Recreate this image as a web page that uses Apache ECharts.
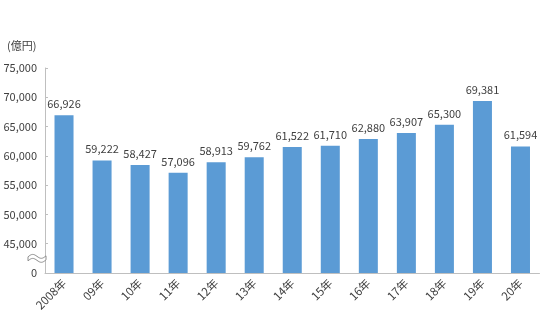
<!DOCTYPE html>
<html>
<head>
<meta charset="utf-8">
<script src="https://cdn.jsdelivr.net/npm/echarts@6/dist/echarts.min.js"></script>
<style>
  html, body { margin: 0; padding: 0; background: #fff; }
  #chart { width: 550px; height: 329px; }
</style>
</head>
<body>
<div id="chart"></div>
<script>
// Annual totals (億円)
const years = ['2008年', '09年', '10年', '11年', '12年', '13年', '14年', '15年', '16年', '17年', '18年', '19年', '20年'];
const amounts = [66926, 59222, 58427, 57096, 58913, 59762, 61522, 61710, 62880, 63907, 65300, 69381, 61594];

// The value axis is broken: its lowest slot stands for 0, the rest runs 45,000–75,000
const axisFloor = 40000;
const axisTop = 75000;
const axisStep = 5000;

const fontFamily = '"Noto Sans CJK JP", "Noto Sans", sans-serif';
const textColor = '#404040';
const axisColor = '#bfbfbf';

const chart = echarts.init(document.getElementById('chart'));

function fmt(v) {
  return v.toLocaleString('en-US');
}

chart.setOption({
  animation: false,
  grid: { left: 45, right: 10.5, top: 68, bottom: 56 },
  xAxis: {
    type: 'category',
    data: years,
    axisLine: { lineStyle: { color: axisColor, width: 1 } },
    axisTick: { show: false },
    axisLabel: {
      rotate: 45,
      interval: 0,
      margin: 8,
      color: textColor,
      fontSize: 11.5,
      fontFamily: fontFamily
    }
  },
  yAxis: {
    type: 'value',
    min: axisFloor,
    max: axisTop,
    interval: axisStep,
    splitLine: { show: false },
    axisLine: { show: true, lineStyle: { color: axisColor, width: 1 } },
    axisTick: { show: true, inside: true, length: 3, lineStyle: { color: axisColor } },
    axisLabel: {
      color: textColor,
      fontSize: 11,
      fontFamily: fontFamily,
      margin: 8,
      formatter: function (v) { return v === axisFloor ? '0' : fmt(v); }
    }
  },
  graphic: [
    {
      type: 'text',
      left: 7,
      top: 40,
      style: { text: '(億円)', fill: textColor, font: '11px ' + fontFamily }
    }
  ],
  series: [{
    type: 'bar',
    data: amounts,
    barWidth: '50%',
    itemStyle: { color: '#5b9bd5' },
    label: {
      show: true,
      position: 'top',
      distance: 6,
      color: textColor,
      fontSize: 11,
      fontFamily: fontFamily,
      formatter: function (p) { return fmt(p.value); }
    }
  }]
});

// Wavy break mark on the value axis, halfway between the "0" slot and 45,000
const breakPt = chart.convertToPixel({ gridIndex: 0 }, [0, axisFloor + axisStep / 2]);
const axisX = chart.convertToPixel({ xAxisIndex: 0 }, 0) - chart.getModel().getComponent('xAxis', 0).axis.getBandWidth() / 2;

function wavePoints() {
  const top = [], bottom = [];
  const n = 16;
  for (let i = 0; i <= n; i++) {
    const t = i / n;
    const x = -9 + 18 * t;
    const y = -2.2 * Math.sin(2 * Math.PI * t) - 1 * t + 0.5;
    top.push([x, y - 2]);
    bottom.push([x, y + 2]);
  }
  return top.concat(bottom.reverse());
}

chart.setOption({
  graphic: [
    {
      type: 'text',
      left: 7,
      top: 40,
      style: { text: '(億円)', fill: textColor, font: '11px ' + fontFamily }
    },
    {
      type: 'polygon',
      x: axisX - 8,
      y: breakPt[1],
      shape: { points: wavePoints() },
      style: { fill: '#ffffff', stroke: '#8c8c8c', lineWidth: 1 },
      z: 100
    }
  ]
});
</script>
</body>
</html>
